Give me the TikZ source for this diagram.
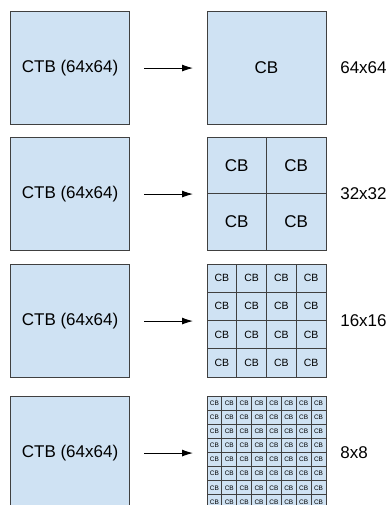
\documentclass[tikz,border=0pt]{standalone}
\usepackage{fontspec}
\setmainfont{Liberation Sans}
\usetikzlibrary{arrows.meta}
\definecolor{cbblue}{HTML}{CFE2F3}
\definecolor{edge}{HTML}{404040}

\begin{document}
\begin{tikzpicture}[x=1pt, y=-1pt,
    blk/.style={draw=edge, line width=1.1pt, fill=cbblue, anchor=north west,
      minimum width=119pt, minimum height=113pt, inner sep=0pt,
      font=\fontsize{17}{20}\selectfont},
    cell/.style={draw=edge, line width=0.9pt, fill=cbblue, inner sep=0pt},
    arr/.style={-{Latex[length=11pt,width=7pt]}, line width=0.9pt,
      shorten <=14pt, shorten >=14pt},
    sizelbl/.style={anchor=west, inner sep=0pt, font=\fontsize{17}{20}\selectfont}]
  \useasboundingbox (0,0) rectangle (389,505);
  \clip (0,0) rectangle (389,505);
  % one row per split depth
  \foreach \row/\ytop/\nc/\fs/\lbl in {1/11/1/17/64x64, 2/137/2/17/32x32,
      3/264/4/10.5/16x16, 4/396/8/6.5/8x8} {
    \node[blk] (ctb\row) at (10,\ytop) {CTB (64x64)};
    \node[blk] (cb\row) at (207,\ytop) {};
    \draw[arr] (ctb\row) -- (cb\row);
    \node[sizelbl] (size\row) at ([xshift=13pt]cb\row.east) {\lbl};
    % coding blocks inside the CTB
    \pgfmathsetmacro\cellw{119/\nc}
    \pgfmathsetmacro\cellh{113/\nc}
    \foreach \i in {1,...,\nc} {
      \foreach \j in {1,...,\nc} {
        \node[cell, minimum width=\cellw pt, minimum height=\cellh pt,
          font=\fontsize{\fs}{\fs}\selectfont] (cb\row-\i-\j)
          at (207+\cellw*\i-\cellw/2, \ytop+\cellh*\j-\cellh/2) {CB};
      }
    }
  }
\end{tikzpicture}
\end{document}
